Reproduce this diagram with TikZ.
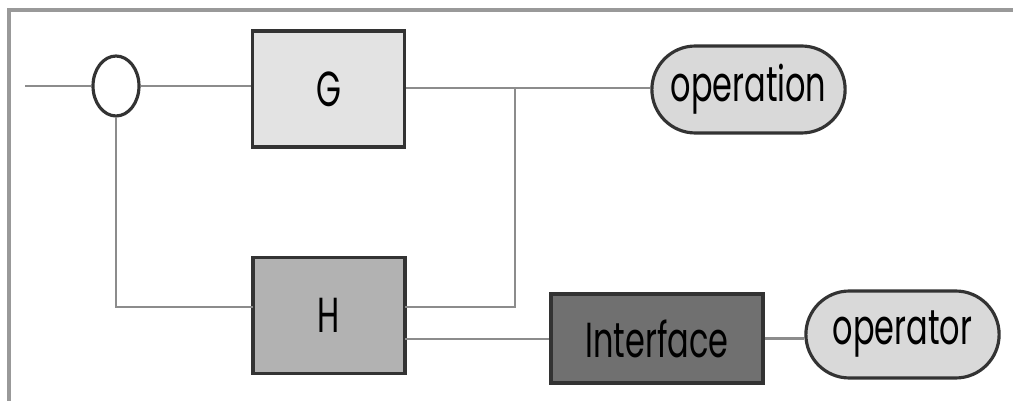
\documentclass[tikz,border=0pt]{standalone}
\usepackage{fontspec}
\newfontfamily\blockfont{Poppins}[FakeStretch=0.65]
\usetikzlibrary{shapes.geometric,shapes.misc}

\definecolor{lightfill}{gray}{0.89}
\definecolor{pillfill}{gray}{0.85}
\definecolor{midfill}{gray}{0.70}
\definecolor{darkfill}{gray}{0.44}
\definecolor{edgecol}{gray}{0.20}
\definecolor{wirecol}{gray}{0.55}
\definecolor{framecol}{gray}{0.60}

\begin{document}
\begin{tikzpicture}[x=0.02cm, y=-0.02cm]
        % Define styles
        \tikzset{
            block/.style={rectangle, draw=edgecol, line width=2pt, minimum width=3.04cm, minimum height=2.32cm,
                font=\blockfont\fontsize{28}{30}\selectfont},
            pill/.style={rounded rectangle, draw=edgecol, line width=1.8pt, fill=pillfill, minimum width=4.1cm, minimum height=1.74cm,
                font=\blockfont\fontsize{28}{30}\selectfont},
            summer/.style={ellipse, draw=edgecol, line width=1.8pt, fill=white, minimum width=0.92cm, minimum height=1.2cm, inner sep=0pt},
            wire/.style={draw=wirecol, line width=1.5pt}
        }
        \useasboundingbox (0,0) rectangle (1013,401);

        % Frame
        \draw[framecol, line width=2pt] (9,401) -- (9,10) -- (1013,10);

        % Nodes
        \coordinate (input_start) at (25,86);
        \node[summer] (sum_node) at (116,86) {};
        \node[block, fill=lightfill] (g_block) at (328.5,89) {G};
        \node[pill] (operation_node) at (748.5,89.5) {operation};
        \node[block, fill=midfill] (h_block) at (329,315.5) {H};
        \node[block, fill=darkfill, minimum width=4.24cm, minimum height=1.78cm] (interface_node) at (657,338.5) {Interface};
        \node[pill, minimum width=4.1cm] (operator_node) at (902.5,334.5) {operator};
        \coordinate (split_point) at (515,88);
        \coordinate (h_in) at (253,307);
        \coordinate (h_back) at (405,307);
        \coordinate (h_out) at (405,339);

        % Arrows
        \draw[wire] (input_start) -- (sum_node.west);
        \draw[wire] (sum_node.east) -- (sum_node.east -| g_block.west);
        \draw[wire] (g_block.east |- split_point) -- (split_point -| operation_node.west);
        \draw[wire] (split_point) |- (h_back);
        \draw[wire] (sum_node.south) |- (h_in);
        \draw[wire] (h_out) -- (h_out -| interface_node.west);
        \draw[wire] (interface_node.east) -- (interface_node.east -| operator_node.west);
    \end{tikzpicture}
\end{document}
